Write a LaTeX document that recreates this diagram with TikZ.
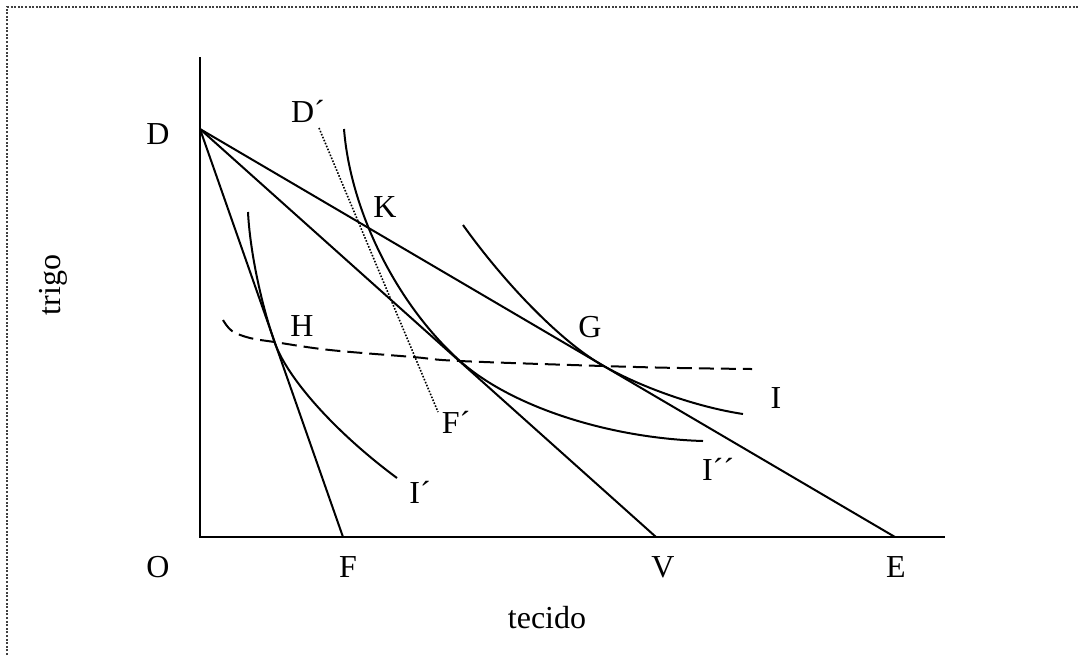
\documentclass[tikz,border=0pt]{standalone}
\usepackage{fontspec}
\setmainfont{Liberation Serif}
\begin{document}
\begin{tikzpicture}[x=0.5pt,y=-0.5pt,
  lbl/.style={font=\fontsize{16}{19}\selectfont, inner sep=0pt},
  ln/.style={line width=1pt},
  indiff/.style={line width=1pt},
  offer/.style={line width=1pt, dash pattern=on 7.5pt off 3.5pt},
  aux/.style={line width=0.8pt, dash pattern=on 0.8pt off 0.8pt},
  frame/.style={line width=1pt, black!75, dash pattern=on 1pt off 0.8pt}]
\useasboundingbox (0,0) rectangle (1080,655);
\draw[frame] (7,655) -- (7,7) -- (1080,7);
% key points
\coordinate (O) at (200,537);
\coordinate (Ytop) at (200,57);
\coordinate (Xend) at (945,537);
\coordinate (D) at (200,129);
\coordinate (F) at (343,537);
\coordinate (V) at (656,537);
\coordinate (E) at (895,537);
\coordinate (Dp) at (319,128);
\coordinate (Fp) at (438,412);
\coordinate (H) at (274.5,342);
\coordinate (T2) at (460,361);
\coordinate (G) at (600,363.8);
% axes
\draw[ln] (Ytop) -- (O) -- (Xend);
% budget lines
\draw[ln] (D) -- (F);
\draw[ln] (D) -- (V);
\draw[ln] (D) -- (E);
% indifference curve I'
\draw[indiff] (248,212) .. controls (249.9,250) and (260.6,302) .. (H)
  .. controls (287.3,378.7) and (336.3,433.1) .. (397,478);
% indifference curve I''
\draw[indiff] (344,129) .. controls (350.6,211.8) and (397,304.6) .. (T2)
  .. controls (510.4,406.1) and (607.6,438.1) .. (703,441);
% indifference curve I
\draw[indiff] (463,225) .. controls (506.1,285.3) and (560.9,340.8) .. (G)
  .. controls (639.5,387) and (696.7,407) .. (743,414);
% offer curve (dashed)
\draw[offer] plot[smooth, tension=0.6] coordinates {(223,320) (232,331) (250,338) (H) (330,350) (413,357) (T2) (603,366) (680,368) (752,369)};
% dotted D'F'
\draw[aux] (Dp) -- (Fp);
% labels
\node[lbl] (lD) at (158,134) {D};
\node[lbl] (lO) at (158,567) {O};
\node[lbl] (lF) at (348,567) {F};
\node[lbl] (lV) at (663,567) {V};
\node[lbl] (lE) at (896,567) {E};
\node[lbl] (lx) at (547,618) {tecido};
\node[lbl, rotate=90] (ly) at (53,285) {trigo};
\node[lbl] (lDp) at (308,111) {D´};
\node[lbl] (lK) at (385,207) {K};
\node[lbl] (lH) at (302,326) {H};
\node[lbl] (lG) at (590,327) {G};
\node[lbl] (lI) at (776,398) {I};
\node[lbl] (lIpp) at (718,469) {I´´};
\node[lbl] (lIp) at (420,492) {I´};
\node[lbl] (lFp) at (456,422) {F´};
\end{tikzpicture}
\end{document}
